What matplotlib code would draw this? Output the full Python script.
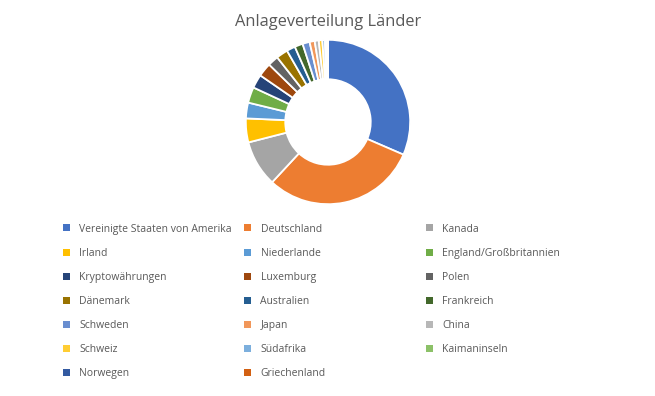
import matplotlib.pyplot as plt
from matplotlib.patches import Rectangle

laender = ['Vereinigte Staaten von Amerika', 'Deutschland', 'Kanada', 'Irland',
           'Niederlande', 'England/Großbritannien', 'Kryptowährungen', 'Luxemburg',
           'Polen', 'Dänemark', 'Australien', 'Frankreich', 'Schweden', 'Japan',
           'China', 'Schweiz', 'Südafrika', 'Kaimaninseln', 'Norwegen', 'Griechenland']
anteile = [31.5, 30.4, 9.1, 4.7, 3.1, 3.1, 2.7, 2.7, 2.1, 2.3,
           1.7, 1.6, 1.4, 1.0, 0.8, 0.7, 0.5, 0.3, 0.2, 0.1]
farben = ['#4472C4', '#ED7D31', '#A5A5A5', '#FFC000', '#5B9BD5', '#70AD47',
          '#264478', '#9E480E', '#636363', '#997300', '#255E91', '#43682B',
          '#698ED0', '#F1975A', '#B7B7B7', '#FFCD33', '#7CAFDD', '#8CC168',
          '#335AA1', '#D26012']

W, H = 655, 396
fig = plt.figure(figsize=(W / 100, H / 100), dpi=100)
textfarbe = '#595959'

# donut
cx, cy, r = 328, 122, 83
ax = fig.add_axes([(cx - r) / W, (H - cy - r) / H, 2 * r / W, 2 * r / H])
ax.pie(anteile, colors=farben, startangle=90, counterclock=False,
       wedgeprops=dict(width=0.48, edgecolor='white', linewidth=1.3))
ax.set_xlim(-1.01, 1.01)
ax.set_ylim(-1.01, 1.01)
ax.set_aspect('equal')
ax.axis('off')

fig.text(cx / W, 1 - 26 / H, 'Anlageverteilung Länder', ha='center', va='baseline',
         fontsize=11.8, color=textfarbe, family='Open Sans')

# legend, row-major in 3 columns
for i, (name, c) in enumerate(zip(laender, farben)):
    row, col = divmod(i, 3)
    x0 = 63 + col * 181.5
    y0 = 228 + row * 24
    fig.patches.append(Rectangle((x0 / W, 1 - (y0 + 3.5) / H), 7 / W, 7 / H,
                                 transform=fig.transFigure, facecolor=c,
                                 edgecolor='none'))
    fig.text((x0 + 16) / W, 1 - (y0 + 4) / H, name, ha='left', va='baseline',
             fontsize=7.5, color=textfarbe, family='Open Sans')

fig.savefig('out.png', dpi=100)
